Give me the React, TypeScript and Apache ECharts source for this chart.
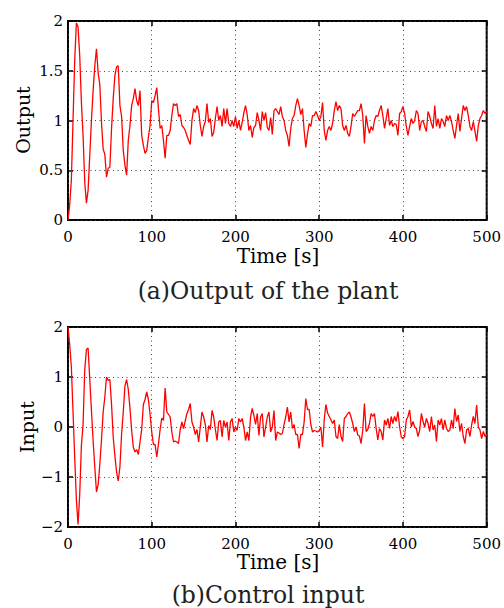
import React, { useEffect, useRef } from "react";
import * as echarts from "echarts";

const SAMPLE_STEP_S = 2;

const xTicks = [0, 100, 200, 300, 400, 500];

// (a) Output of the plant, sampled every 2 s from t = 0 to 500
const outputValues = [
  0.0, 0.15, 0.4, 1.0, 1.6, 1.98, 1.94, 1.65, 1.18, 0.85,
  0.38, 0.17, 0.3, 0.65, 1.0, 1.3, 1.55, 1.72, 1.48, 1.36,
  0.98, 0.71, 0.66, 0.43, 0.52, 0.53, 0.92, 1.22, 1.45, 1.54,
  1.55, 1.15, 1.04, 0.7, 0.55, 0.45, 0.8, 0.95, 1.15, 1.22,
  1.32, 1.2, 1.15, 1.3, 0.85, 0.75, 0.67, 0.7, 0.83, 0.95,
  1.2, 1.18, 1.25, 1.33, 1.12, 0.92, 0.95, 0.8, 0.62, 0.85,
  0.85, 0.9, 1.05, 1.17, 1.15, 1.17, 1.04, 1.06, 0.95, 0.93,
  0.9, 0.85, 0.8, 0.76, 1.0, 1.12, 1.08, 1.15, 1.1, 0.95,
  0.84, 0.94, 0.99, 1.17, 0.98, 1.02, 0.84, 0.88, 1.02, 1.14,
  1.0, 1.05, 0.94, 1.12, 0.97, 1.12, 0.97, 0.94, 1.0, 0.94,
  1.04, 0.92, 1.0, 0.9, 0.98, 1.08, 1.15, 1.06, 0.9, 0.95,
  0.83, 0.93, 0.95, 1.08, 1.0, 0.9, 1.09, 1.0, 1.08, 0.93,
  0.9, 1.03, 0.86, 1.1, 1.12, 1.09, 1.06, 1.14, 1.04, 1.0,
  0.9, 0.85, 0.74, 0.92, 1.02, 1.05, 1.15, 1.22, 1.15, 1.06,
  1.12, 0.9, 0.73, 0.86, 0.97, 0.94, 1.05, 1.05, 1.09, 1.05,
  1.0, 1.04, 1.18, 0.9, 0.8, 0.9, 0.94, 0.9, 0.97, 1.1,
  1.19, 1.1, 1.15, 1.12, 0.95, 0.9, 0.95, 0.87, 0.84, 0.94,
  1.07, 1.04, 1.07, 1.1, 1.1, 1.17, 1.05, 0.77, 1.05, 0.94,
  0.87, 0.94, 0.9, 1.0, 1.05, 1.04, 1.1, 1.15, 1.05, 0.92,
  1.02, 1.12, 0.95, 1.0, 0.94, 0.97, 0.96, 0.85, 1.07, 1.09,
  1.14, 1.07, 0.94, 0.85, 0.94, 1.02, 0.97, 1.0, 1.1, 1.07,
  0.9, 0.99, 1.0, 0.94, 0.89, 1.09, 1.04, 0.97, 0.92, 1.15,
  0.94, 1.02, 0.92, 1.02, 0.99, 0.94, 1.05, 1.0, 1.05, 0.99,
  0.9, 0.82, 0.95, 1.07, 0.89, 1.02, 1.15, 1.1, 1.14, 1.05,
  0.94, 0.9, 0.99, 0.89, 0.79, 0.95, 1.02, 1.05, 1.1, 1.07,
  1.09,
];

// (b) Control input, sampled every 2 s from t = 0 to 500
const inputValues = [
  2.0, 1.65, 1.2, 0.3, -0.6, -1.45, -1.95, -1.35, -0.37, 0.05,
  1.15, 1.55, 1.58, 0.95, 0.33, -0.28, -0.8, -1.3, -1.15, -0.75,
  -0.25, 0.3, 0.6, 1.0, 0.93, 0.95, 0.45, -0.2, -0.58, -0.9,
  -1.08, -0.8, -0.14, 0.3, 0.82, 0.95, 0.75, 0.38, -0.07, -0.4,
  -0.5, -0.45, -0.55, -0.3, -0.05, 0.45, 0.55, 0.7, 0.55, 0.25,
  -0.1, -0.35, -0.35, -0.6, -0.35, -0.05, 0.18, 0.13, 0.78, 0.3,
  0.25, 0.2, -0.1, -0.3, -0.28, -0.3, -0.33, -0.05, 0.1, -0.03,
  0.12, 0.27, 0.35, 0.47, 0.1, 0.0, -0.15, -0.05, -0.3, 0.0,
  0.3, 0.2, 0.05, -0.3, 0.03, -0.05, 0.33, 0.2, -0.05, -0.27,
  0.1, 0.13, -0.2, 0.13, 0.0, 0.1, -0.27, 0.1, 0.17, -0.1,
  0.0, -0.07, 0.17, 0.1, 0.17, 0.0, -0.27, -0.1, -0.27, 0.2,
  0.37, 0.23, 0.05, 0.27, -0.17, 0.2, 0.27, -0.2, 0.0, 0.2,
  0.3, -0.1, 0.0, 0.33, -0.27, -0.1, -0.12, -0.15, -0.13, 0.05,
  0.2, 0.4, 0.1, 0.3, -0.03, 0.05, -0.15, -0.15, -0.43, -0.15,
  -0.15, 0.1, 0.57, 0.35, 0.35, 0.05, -0.1, -0.07, -0.08, -0.1,
  -0.07, 0.0, -0.4, 0.15, 0.45, 0.28, 0.21, 0.14, 0.07, 0.14,
  -0.19, -0.23, 0.05, -0.19, -0.29, 0.17, 0.21, 0.27, 0.3, 0.2,
  0.07, -0.09, 0.0, -0.16, -0.18, -0.33, -0.06, 0.47, -0.09, -0.05,
  0.07, 0.27, 0.21, 0.27, -0.03, -0.26, -0.03, -0.09, -0.26, 0.14,
  0.04, 0.17, -0.03, 0.21, 0.07, 0.21, 0.11, 0.31, 0.0, -0.2,
  -0.23, -0.19, 0.14, 0.21, 0.34, 0.0, 0.11, 0.0, -0.03, -0.19,
  -0.06, 0.27, 0.11, 0.0, 0.17, 0.07, -0.09, 0.21, -0.06, 0.04,
  -0.29, 0.14, 0.04, 0.17, -0.06, 0.14, -0.03, -0.09, -0.06, 0.14,
  -0.03, 0.37, 0.11, 0.24, -0.09, 0.07, -0.19, -0.33, -0.06, -0.03,
  -0.19, 0.04, 0.21, 0.07, 0.44, 0.0, -0.06, -0.23, -0.09, -0.19,
  -0.15,
];

const FONT = "DejaVu Serif";

export default function App() {
  const ref = useRef<HTMLDivElement>(null);

  useEffect(() => {
    if (!ref.current) return;
    const chart = echarts.init(ref.current, null, { renderer: "svg" });

    const outData = outputValues.map((v, i) => [i * SAMPLE_STEP_S, v]);
    const inData = inputValues.map((v, i) => [i * SAMPLE_STEP_S, v]);

    const split = {
      show: true,
      lineStyle: { color: "#444", width: 1, type: [1, 3.5] as any },
    };
    const tick = { show: true, inside: true, length: 5, lineStyle: { color: "#000", width: 1.5 } };
    const labelStyle = { color: "#000", fontFamily: FONT, fontSize: 15 };
    const minusFmt = (v: number) => String(v).replace("-", "\u2212");
    const noLine = { show: false, onZero: false };

    const xMain = (grid: number) => ({
      type: "value",
      gridIndex: grid,
      position: "bottom",
      min: xTicks[0],
      max: xTicks[xTicks.length - 1],
      interval: 100,
      axisLine: noLine,
      axisTick: tick,
      axisLabel: { ...labelStyle, margin: 9 },
      splitLine: split,
    });
    const xMirror = (grid: number) => ({
      type: "value",
      gridIndex: grid,
      position: "top",
      min: 0,
      max: 500,
      interval: 100,
      axisLine: noLine,
      axisTick: tick,
      axisLabel: { show: false },
      splitLine: { show: false },
    });
    const yMain = (grid: number, min: number, max: number, interval: number) => ({
      type: "value",
      gridIndex: grid,
      position: "left",
      min,
      max,
      interval,
      axisLine: noLine,
      axisTick: tick,
      axisLabel: { ...labelStyle, margin: 5, formatter: minusFmt },
      splitLine: split,
    });
    const yMirror = (grid: number, min: number, max: number, interval: number) => ({
      type: "value",
      gridIndex: grid,
      position: "right",
      min,
      max,
      interval,
      axisLine: noLine,
      axisTick: tick,
      axisLabel: { show: false },
      splitLine: { show: false },
    });

    const textEl = (x: number, y: number, text: string, size: number, rotate = 0, fill = "#000") => ({
      type: "text",
      x,
      y,
      rotation: rotate,
      style: {
        text,
        fill,
        font: `${size}px "${FONT}"`,
        align: "center",
        verticalAlign: "middle",
      },
    });

    chart.setOption({
      animation: false,
      backgroundColor: "#fff",
      grid: [
        { left: 68, top: 21, width: 420, height: 199, show: true, borderColor: "#000", borderWidth: 2, backgroundColor: "transparent" },
        { left: 68, top: 327, width: 420, height: 200, show: true, borderColor: "#000", borderWidth: 2, backgroundColor: "transparent" },
      ],
      xAxis: [xMain(0), xMirror(0), xMain(1), xMirror(1)],
      yAxis: [yMain(0, 0, 2, 0.5), yMirror(0, 0, 2, 0.5), yMain(1, -2, 2, 1), yMirror(1, -2, 2, 1)],
      series: [
        {
          type: "line",
          xAxisIndex: 0,
          yAxisIndex: 0,
          data: outData,
          showSymbol: false,
          lineStyle: { color: "#ff0000", width: 1.3 },
          z: 1,
        },
        {
          type: "line",
          xAxisIndex: 2,
          yAxisIndex: 2,
          data: inData,
          showSymbol: false,
          lineStyle: { color: "#ff0000", width: 1.3 },
          z: 1,
        },
      ],
      graphic: [
        textEl(278, 256, "Time [s]", 20),
        textEl(22.5, 120, "Output", 19, Math.PI / 2),
        textEl(268, 291, "(a)Output of the plant", 23.5, 0, "#222"),
        textEl(278, 562, "Time [s]", 20),
        textEl(27, 427, "Input", 19, Math.PI / 2),
        textEl(268, 595, "(b)Control input", 23.5, 0, "#222"),
      ],
    });

    return () => chart.dispose();
  }, []);

  return (
    <div
      ref={ref}
      style={{ position: "absolute", left: 0, top: 0, width: 504, height: 608 }}
    />
  );
}
